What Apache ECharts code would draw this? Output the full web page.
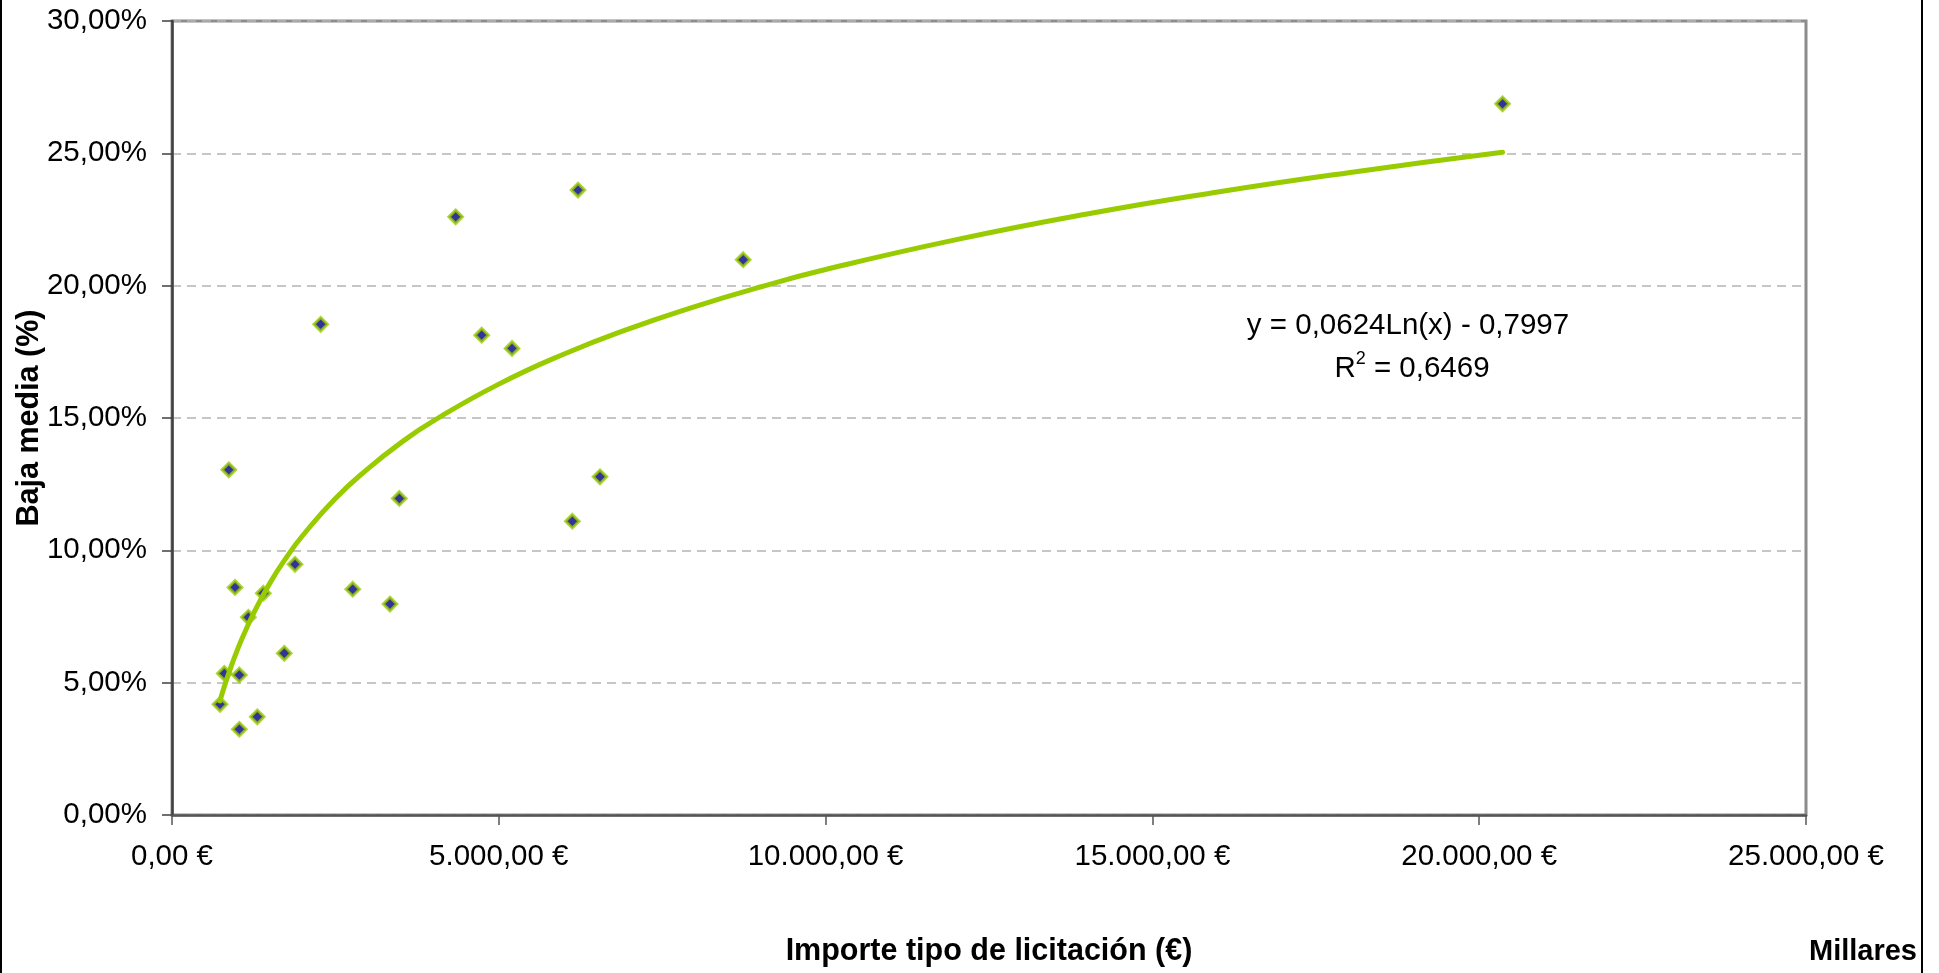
<!DOCTYPE html>
<html>
<head>
<meta charset="utf-8">
<script src="https://cdn.jsdelivr.net/npm/echarts@6/dist/echarts.min.js"></script>
<style>
html,body{margin:0;padding:0;background:#fff;}
#chart{width:1939px;height:973px;}
</style>
</head>
<body>
<div id="chart"></div>
<script>
// Importe tipo de licitación (miles de €) and baja media (fraction)
const importe = [734, 800, 869, 964, 1030, 1030, 1168, 1305, 1397, 1718, 1882, 2275, 2765, 3335, 3478, 4340, 4738, 5202, 6125, 6212, 6548, 8739, 20357];
const baja = [0.0418, 0.0535, 0.1304, 0.0860, 0.0529, 0.0324, 0.0747, 0.0371, 0.0838, 0.0611, 0.0947, 0.1854, 0.0853, 0.0797, 0.1196, 0.2260, 0.1813, 0.1763, 0.1110, 0.2361, 0.1278, 0.2098, 0.2687];

// Logarithmic trend line
const trendX = [734, 800, 900, 1000, 1100, 1250, 1500, 1750, 2000, 2500, 3000, 3500, 4000, 5000, 6000, 7000, 8000, 9000, 10000, 12000, 14000, 16000, 18000, 20357];
const trendY = [0.0431, 0.0485, 0.0558, 0.0624, 0.0683, 0.0763, 0.0877, 0.0973, 0.1056, 0.1196, 0.1309, 0.1406, 0.1489, 0.1628, 0.1742, 0.1838, 0.1921, 0.1995, 0.2061, 0.2174, 0.2271, 0.2354, 0.2427, 0.2504];

const xTicks = [0, 5000, 10000, 15000, 20000, 25000];
const yTicks = [0, 0.05, 0.10, 0.15, 0.20, 0.25, 0.30];

const xTitle = 'Importe tipo de licitación (€)';
const yTitle = 'Baja media (%)';
const unitLabel = 'Millares';
const eqLine = 'y = 0,0624Ln(x) - 0,7997';
const r2Value = '0,6469';

const FONT = "'Liberation Sans', Arial, sans-serif";

function fmtEuro(v) {
  const s = Math.round(v).toString().replace(/\B(?=(\d{3})+(?!\d))/g, '.');
  return s + ',00 €';
}
function fmtPct(v) {
  return (v * 100).toFixed(2).replace('.', ',') + '%';
}

const chart = echarts.init(document.getElementById('chart'), null, {renderer: 'canvas'});
chart.setOption({
  backgroundColor: '#ffffff',
  animation: false,
  textStyle: {fontFamily: FONT},
  grid: {
    left: 172, top: 21, width: 1634, height: 794,
    containLabel: false, outerBoundsMode: 'none',
    show: true, borderColor: '#8c8c8c', borderWidth: 3, backgroundColor: 'transparent'
  },
  xAxis: {
    type: 'value',
    min: xTicks[0], max: xTicks[xTicks.length - 1], interval: xTicks[1] - xTicks[0],
    name: xTitle, nameLocation: 'middle', nameGap: 121, nameMoveOverlap: false,
    nameTextStyle: {fontFamily: FONT, fontSize: 30.5, fontWeight: 'bold', color: '#000'},
    axisLine: {show: true, onZero: false, lineStyle: {color: '#555555', width: 2.5}},
    axisTick: {show: true, inside: false, length: 10, lineStyle: {color: '#555555', width: 1.5}},
    axisLabel: {fontFamily: FONT, fontSize: 29.5, color: '#000', margin: 27, formatter: fmtEuro},
    splitLine: {show: false}
  },
  yAxis: {
    type: 'value',
    min: yTicks[0], max: yTicks[yTicks.length - 1], interval: yTicks[1] - yTicks[0],
    name: yTitle, nameLocation: 'middle', nameGap: 126.5, nameRotate: 90, nameMoveOverlap: false,
    nameTextStyle: {fontFamily: FONT, fontSize: 30.5, fontWeight: 'bold', color: '#000'},
    axisLine: {show: true, onZero: false, lineStyle: {color: '#404040', width: 2.5}},
    axisTick: {show: true, inside: false, length: 10, lineStyle: {color: '#404040', width: 1.5}},
    axisLabel: {fontFamily: FONT, fontSize: 29.5, color: '#000', margin: 25, formatter: fmtPct},
    splitLine: {show: true, lineStyle: {color: '#b4b4b4', width: 1.5, type: [9, 6]}}
  },
  series: [
    {
      type: 'scatter',
      data: importe.map((x, i) => [x, baja[i]]),
      symbol: 'diamond',
      symbolSize: 13.5,
      itemStyle: {color: '#000080', borderColor: '#99cc00', borderWidth: 3},
      z: 3
    },
    {
      type: 'line',
      data: trendX.map((x, i) => [x, trendY[i]]),
      smooth: true,
      showSymbol: false,
      symbol: 'none',
      lineStyle: {color: '#99cc00', width: 5, cap: 'round'},
      z: 4
    }
  ],
  graphic: [
    {
      type: 'rect', silent: true,
      shape: {x: 1, y: -10, width: 1921, height: 1000},
      style: {fill: 'none', stroke: '#000', lineWidth: 2}
    },
    {
      type: 'text', silent: true, x: 1917, y: 952,
      style: {text: unitLabel, fontFamily: FONT, fontSize: 29, fontWeight: 'bold', fill: '#000', align: 'right', verticalAlign: 'middle'}
    },
    {
      type: 'text', silent: true, x: 1408, y: 326,
      style: {text: eqLine, fontFamily: FONT, fontSize: 29.5, fill: '#000', align: 'center', verticalAlign: 'middle'}
    },
    {
      type: 'text', silent: true, x: 1412, y: 367,
      style: {
        text: '{r|R}{s|2}{r| = ' + r2Value + '}',
        fontFamily: FONT, fill: '#000', align: 'center', verticalAlign: 'middle',
        rich: {
          r: {fontFamily: FONT, fontSize: 29.5, fill: '#000', verticalAlign: 'bottom', lineHeight: 33},
          s: {fontFamily: FONT, fontSize: 18, fill: '#000', verticalAlign: 'top', lineHeight: 33, padding: [0, 0, 14, 0]}
        }
      }
    }
  ]
});
</script>
</body>
</html>
